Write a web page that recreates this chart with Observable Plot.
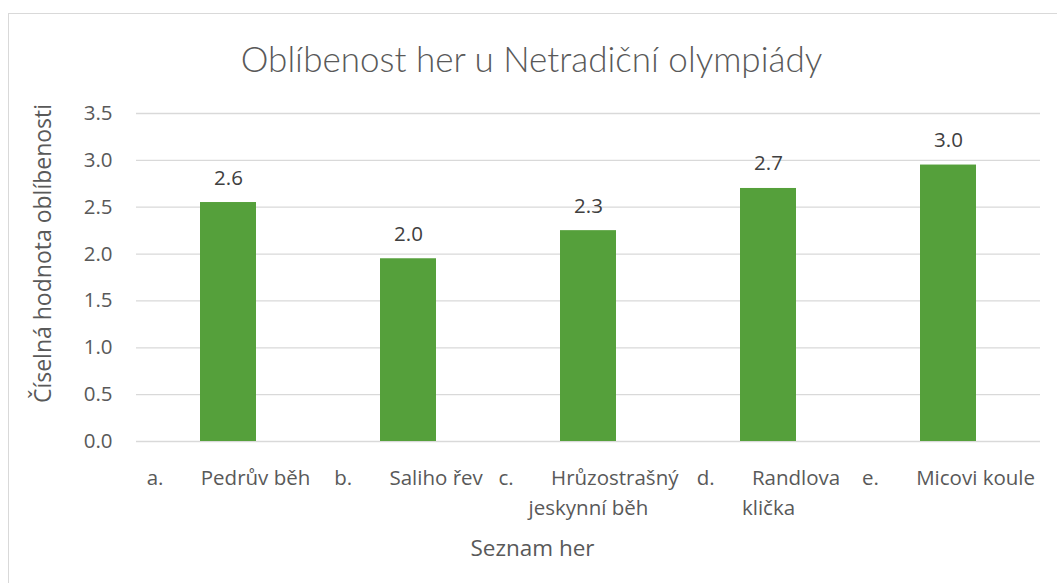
<!DOCTYPE html>
<html><head><meta charset="utf-8">
<script src="https://cdn.jsdelivr.net/npm/d3@7"></script>
<script src="https://cdn.jsdelivr.net/npm/@observablehq/plot@0.6"></script>
<style>
html,body{margin:0;padding:0;background:#fff;}
#wrap{position:relative;width:1057px;height:583px;overflow:hidden;}
#border{position:absolute;left:8px;top:13px;width:1100px;height:700px;border:1.5px solid #d9d9d9;box-sizing:border-box;}
#chart{position:absolute;left:0;top:0;}
</style></head><body>
<div id="wrap"><div id="border"></div><div id="chart"></div></div>
<script>
const title = "Oblíbenost her u Netradiční olympiády";
const xTitle = "Seznam her";
const yTitle = "Číselná hodnota oblíbenosti";
const keys = ["a", "b", "c", "d", "e"];
const letters = ["a.", "b.", "c.", "d.", "e."];
const names = ["Pedrův běh", "Saliho řev", "Hrůzostrašný\njeskynní běh", "Randlova\nklička", "Micovi koule"];
const values = [2.55, 1.95, 2.25, 2.70, 2.95];
const yTicks = [0, 0.5, 1.0, 1.5, 2.0, 2.5, 3.0, 3.5];

const TAB = "\u00a0".repeat(7);
const data = keys.map((k, i) => ({key: k, label: letters[i] + TAB + names[i], value: values[i]}));
const fmt1 = v => (Math.round(v * 10 + 1e-6) / 10).toFixed(1);
const font = "'Open Sans', sans-serif";

const plot = Plot.plot({
  width: 1057, height: 583,
  marginLeft: 136, marginRight: 17, marginTop: 113, marginBottom: 142,
  style: {fontFamily: font, fontSize: "20px", color: "#595959", background: "transparent", overflow: "visible"},
  x: {domain: keys, paddingInner: 0.69, paddingOuter: 0.345, axis: null},
  y: {domain: [0, 3.5], axis: null},
  marks: [
    Plot.gridY(yTicks, {stroke: "#d9d9d9", strokeOpacity: 1, strokeWidth: 1.3}),
    Plot.axisY(yTicks, {tickSize: 0, tickPadding: 24, tickFormat: d3.format(".1f"), label: null, fill: "#595959", fontSize: 20.5}),
    Plot.barY(data, {x: "key", y: "value", fill: "#55a03b"}),
    Plot.text(data, {x: "key", y: "value", text: d => fmt1(d.value), dy: -18, lineAnchor: "bottom", fontSize: 20.5, fill: "#404040"}),
    Plot.text(data, {x: "key", frameAnchor: "bottom", text: "label", lineAnchor: "top", dy: 22, lineHeight: 1.46, fontSize: 20.5, fill: "#595959"}),
    Plot.text([yTitle], {frameAnchor: "left", rotate: -90, dx: -93, dy: -24, textAnchor: "middle", lineAnchor: "middle", fontSize: 23, fill: "#595959"}),
    Plot.text([title], {frameAnchor: "top", dx: -57, dy: -53, textAnchor: "middle", lineAnchor: "middle", fontSize: 35, fontWeight: 300, fontFamily: "Lato, sans-serif", fill: "#595959"}),
    Plot.text([xTitle], {frameAnchor: "bottom", dx: -56, dy: 107, textAnchor: "middle", lineAnchor: "middle", fontSize: 22.5, fill: "#595959"})
  ]
});
document.getElementById("chart").appendChild(plot);
</script>
</body></html>
